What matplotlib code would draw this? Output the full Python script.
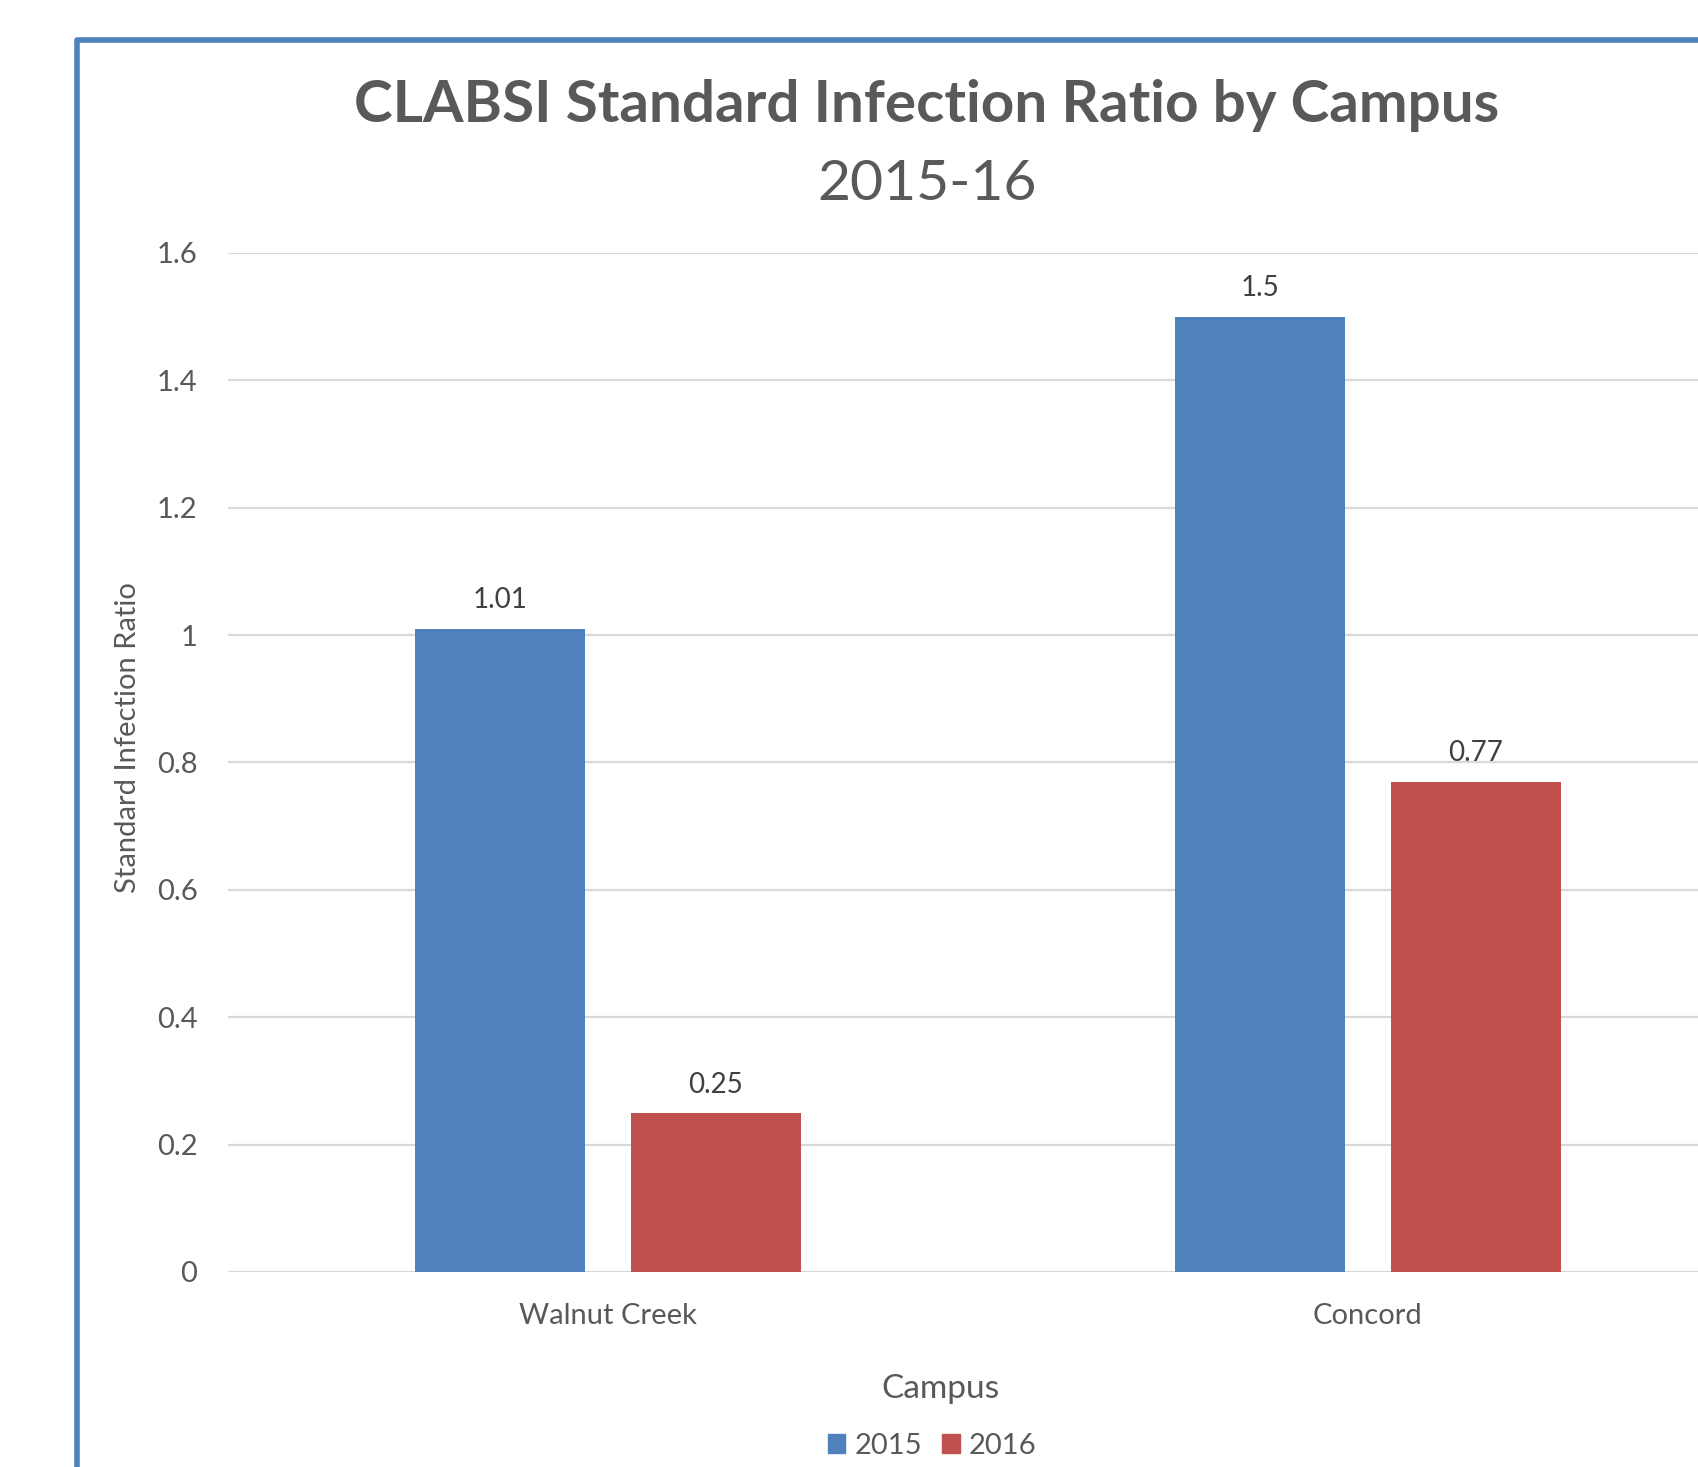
import matplotlib
matplotlib.use("Agg")
import matplotlib.pyplot as plt
from matplotlib.patches import Patch, Rectangle
import numpy as np

# Datos del gráfico
campus = ["Walnut Creek", "Concord"]
series = ["2015", "2016"]
sir_2015 = [1.01, 1.5]
sir_2016 = [0.25, 0.77]
yticks = [0, 0.2, 0.4, 0.6, 0.8, 1, 1.2, 1.4, 1.6]
ytick_labels = ["0", "0.2", "0.4", "0.6", "0.8", "1", "1.2", "1.4", "1.6"]

azul = "#4f81bd"
rojo = "#c0504d"
gris = "#595959"

plt.rcParams["font.family"] = ["Lato", "DejaVu Sans"]

W, H = 1698, 1467
fig = plt.figure(figsize=(W / 100, H / 100), dpi=100)

# Área de trazado (se sale por la derecha, como en la captura)
x0, x1 = 228, 1748
y_cero, y_top = 1272, 253
ax = fig.add_axes([x0 / W, (H - y_cero) / H, (x1 - x0) / W, (y_cero - y_top) / H])

x = np.arange(len(campus))
ancho = 0.2237
desp = 0.1415
b1 = ax.bar(x - desp, sir_2015, ancho, color=azul, label=series[0], zorder=3)
b2 = ax.bar(x + desp, sir_2016, ancho, color=rojo, label=series[1], zorder=3)
ax.bar_label(b1, labels=[f"{v:g}" for v in sir_2015], padding=11, fontsize=20, color="#404040")
ax.bar_label(b2, labels=[f"{v:g}" for v in sir_2016], padding=11, fontsize=20, color="#404040")

ax.set_xlim(-0.5, 1.5)
ax.set_ylim(0, 1.6)
ax.set_yticks(yticks)
ax.set_yticklabels(ytick_labels)
ax.set_xticks(x)
ax.set_xticklabels(campus)
ax.tick_params(axis="y", length=0, pad=22, labelsize=21, labelcolor=gris)
ax.tick_params(axis="x", length=0, pad=22, labelsize=21, labelcolor=gris)
ax.grid(axis="y", color="#d9d9d9", linewidth=1.6, zorder=0)
for s in ax.spines.values():
    s.set_visible(False)

# Títulos
fig.text(927 / W, (H - 122) / H, "CLABSI Standard Infection Ratio by Campus",
         ha="center", va="baseline", fontsize=42, fontweight="bold", color=gris)
fig.text(927 / W, (H - 200) / H, "2015-16",
         ha="center", va="baseline", fontsize=41, color=gris)
fig.text(128 / W, (H - 738) / H, "Standard Infection Ratio", rotation=90,
         ha="center", va="center", fontsize=21, color=gris)
fig.text(940 / W, (H - 1398) / H, "Campus",
         ha="center", va="baseline", fontsize=24, color=gris)

# Leyenda
handles = [Patch(color=azul), Patch(color=rojo)]
fig.legend(handles, series, loc="center", bbox_to_anchor=(932 / W, (H - 1446) / H),
           ncol=2, frameon=False, fontsize=21, labelcolor=gris,
           handlelength=0.6, handleheight=0.6, handletextpad=0.3, columnspacing=0.7)

# Borde del gráfico
fig.add_artist(Rectangle((77 / W, -0.1), 1.2, (H - 40) / H + 0.1, transform=fig.transFigure,
                         fill=False, edgecolor=azul, linewidth=4, joinstyle="round"))

fig.savefig("out.png", dpi=100)
